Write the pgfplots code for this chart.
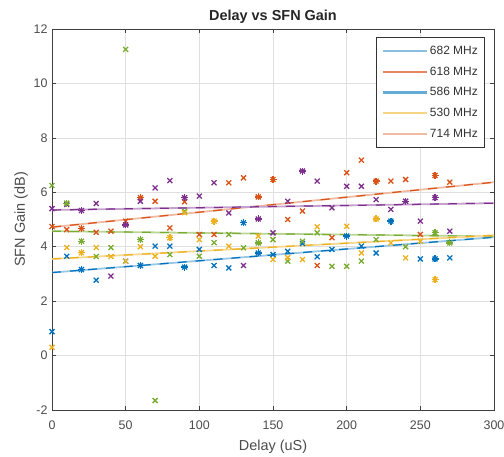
\documentclass[border=0pt]{standalone}
\usepackage{fontspec}
\setmainfont{Liberation Sans}
\usepackage{pgfplots}
\pgfplotsset{compat=1.18}

\definecolor{mblue}{HTML}{0072BD}
\definecolor{morange}{HTML}{D95319}
\definecolor{myellow}{HTML}{EDB120}
\definecolor{mpurple}{HTML}{7E2F8E}
\definecolor{mgreen}{HTML}{77AC30}
\definecolor{axgray}{HTML}{404040}

\begin{document}
\begin{tikzpicture}
\useasboundingbox (-52bp,-47bp) rectangle (452bp,410bp);
\begin{axis}[scale only axis,width=442bp,height=381bp,
 xmin=0,xmax=300,ymin=-2,ymax=12,
 xtick={0,50,...,300},ytick={-2,0,...,12},
 grid=major,grid style={black!12,line width=0.6bp},
 axis line style={axgray,line width=0.9bp},
 tick style={axgray,line width=0.7bp},tick align=inside,major tick length=4bp,
 xticklabel style={text=black!70,yshift=-7bp},yticklabel style={text=black!70,xshift=-1bp},
 tick label style={font=\fontsize{12.5}{14}\selectfont},
 /pgf/number format/assume math mode=true,
 title={Delay vs SFN Gain},title style={font=\bfseries\fontsize{14.5}{16}\selectfont,text=black!85,yshift=-4bp},
 xlabel={Delay (uS)},ylabel={SFN Gain (dB)},
 label style={font=\fontsize{14.5}{16}\selectfont,text=black!70},
 xlabel style={yshift=-3.5bp},ylabel style={yshift=-1bp},
 legend style={at={(0.98,0.979)},anchor=north east,draw=black!80,line width=0.7bp,
  font=\fontsize{12}{13}\selectfont,text=black!80,row sep=6.8bp,inner xsep=5bp,inner ysep=7bp},
 legend cell align=left,
 legend image code/.code={\draw[#1] (0bp,0bp) -- (44bp,0bp);},
 mark options={solid,line width=1.3bp},
]
% legend entries
\addlegendimage{color=mblue!45,line width=2.4bp}
\addlegendentry{682 MHz}
\addlegendimage{color=morange!70,line width=2.4bp}
\addlegendentry{618 MHz}
\addlegendimage{color=mblue!60,line width=2.4bp}
\addlegendentry{586 MHz}
\addlegendimage{color=myellow!55,line width=2.4bp}
\addlegendentry{530 MHz}
\addlegendimage{color=morange!40,line width=2.4bp}
\addlegendentry{714 MHz}

% trend lines
\addplot[forget plot,mblue!40,line width=1.8bp] coordinates {(0,3.05) (300,4.35)};
\addplot[forget plot,mblue,line width=1.2bp,dash pattern=on 9bp off 9bp] coordinates {(0,3.05) (300,4.35)};
\addplot[forget plot,morange!40,line width=1.8bp] coordinates {(0,4.72) (300,6.37)};
\addplot[forget plot,morange,line width=1.2bp,dash pattern=on 9bp off 9bp] coordinates {(0,4.72) (300,6.37)};
\addplot[forget plot,mpurple!45,line width=1.8bp] coordinates {(0,5.35) (300,5.6)};
\addplot[forget plot,mpurple,line width=1.2bp,dash pattern=on 9bp off 9bp] coordinates {(0,5.35) (300,5.6)};
\addplot[forget plot,mgreen!50,line width=1.8bp] coordinates {(0,4.57) (300,4.38)};
\addplot[forget plot,mgreen,line width=1.2bp,dash pattern=on 9bp off 9bp] coordinates {(0,4.57) (300,4.38)};
\addplot[forget plot,myellow!50,line width=1.8bp] coordinates {(0,3.55) (300,4.42)};
\addplot[forget plot,myellow,line width=1.2bp,dash pattern=on 9bp off 9bp] coordinates {(0,3.55) (300,4.42)};

% measured points
\addplot[forget plot,only marks,mark=x,mark size=3.5bp,color=mblue] coordinates {
 (0,0.88) (10,3.65) (20,3.16) (30,2.77) (50,3.47) (60,3.31) (70,4.02) (80,4.02)
 (90,3.25) (100,3.9) (110,3.31) (120,3.22) (130,4.88) (140,3.77) (150,3.71)
 (160,3.83) (170,4.12) (180,3.63) (190,3.9) (200,4.39) (210,4.02) (220,3.77)
 (230,4.94) (250,3.55) (260,3.55) (270,3.59)};
\addplot[forget plot,only marks,mark=+,mark size=3.5bp,color=mblue] coordinates {
 (20,3.16) (60,3.31) (90,3.25) (130,4.88) (140,3.77) (200,4.39) (230,4.94) (260,3.55)};
\addplot[forget plot,only marks,mark=x,mark size=3.5bp,color=morange] coordinates {
 (0,4.74) (10,4.63) (20,4.67) (30,4.53) (40,4.57) (50,4.94) (60,5.8) (70,5.67)
 (80,4.69) (90,5.65) (100,4.45) (110,4.45) (120,6.35) (130,6.53) (140,5.83)
 (150,6.47) (160,5.0) (170,5.31) (180,3.31) (190,4.33) (200,6.72) (210,7.18)
 (220,6.41) (230,6.41) (240,6.47) (250,4.45) (260,6.62) (270,6.37)};
\addplot[forget plot,only marks,mark=+,mark size=3.5bp,color=morange] coordinates {
 (20,4.67) (60,5.8) (140,5.83) (150,6.47) (220,6.41) (260,6.62)};
\addplot[forget plot,only marks,mark=x,mark size=3.5bp,color=mpurple] coordinates {
 (0,5.4) (10,5.55) (20,5.33) (30,5.59) (40,2.92) (50,4.8) (60,5.67) (70,6.16)
 (80,6.43) (90,5.8) (100,5.86) (110,6.35) (120,5.24) (130,3.31) (140,5.02)
 (150,4.51) (160,5.67) (170,6.78) (180,6.41) (190,5.43) (200,6.22) (210,6.22)
 (220,5.73) (230,5.37) (240,5.67) (250,4.94) (260,5.8) (270,4.57)};
\addplot[forget plot,only marks,mark=+,mark size=3.5bp,color=mpurple] coordinates {
 (20,5.33) (50,4.8) (90,5.8) (140,5.02) (170,6.78) (240,5.67) (260,5.8)};
\addplot[forget plot,only marks,mark=x,mark size=3.5bp,color=mgreen] coordinates {
 (0,6.25) (10,5.6) (20,4.2) (30,3.64) (40,3.97) (50,11.25) (60,4.26) (70,-1.65)
 (80,3.71) (90,5.3) (100,3.65) (110,4.15) (120,4.45) (130,3.96) (140,4.14)
 (150,4.26) (160,3.47) (170,4.2) (180,4.51) (190,3.28) (200,3.28) (210,3.47)
 (220,4.26) (240,4.0) (260,4.51) (270,4.14)};
\addplot[forget plot,only marks,mark=+,mark size=3.5bp,color=mgreen] coordinates {
 (10,5.6) (20,4.2) (60,4.26) (140,4.14) (260,4.51) (270,4.14)};
\addplot[forget plot,only marks,mark=x,mark size=3.5bp,color=myellow] coordinates {
 (0,0.3) (10,3.97) (20,3.78) (30,3.97) (40,3.64) (50,3.47) (60,4.0) (70,3.65)
 (80,4.33) (90,5.25) (100,4.26) (110,4.94) (120,4.02) (140,4.39) (150,3.53)
 (160,3.6) (170,3.53) (180,4.73) (200,4.75) (210,3.77) (220,5.02) (230,4.14)
 (240,3.59) (250,4.2) (260,2.79)};
\addplot[forget plot,only marks,mark=+,mark size=3.5bp,color=myellow] coordinates {
 (20,3.78) (80,4.33) (110,4.94) (220,5.02) (260,2.79)};
\end{axis}
\end{tikzpicture}
\end{document}
